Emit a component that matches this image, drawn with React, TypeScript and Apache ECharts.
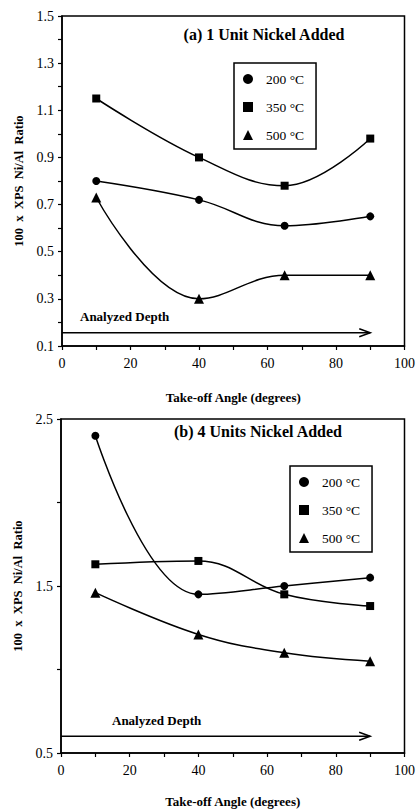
import React, { useEffect, useRef } from "react";
import * as echarts from "echarts";

const angles = [10, 40, 65, 90];
const seriesNames = ["200 °C", "350 °C", "500 °C"];
const symbols = ["circle", "rect", "triangle"];

const topValues200 = [0.8, 0.72, 0.61, 0.65];
const topValues350 = [1.15, 0.9, 0.78, 0.98];
const topValues500 = [0.73, 0.3, 0.4, 0.4];

const botValues200 = [2.4, 1.45, 1.5, 1.55];
const botValues350 = [1.63, 1.65, 1.45, 1.38];
const botValues500 = [1.46, 1.21, 1.1, 1.05];

const topTitle = "(a) 1 Unit Nickel Added";
const botTitle = "(b) 4 Units Nickel Added";
const xTitle = "Take-off Angle (degrees)";
const yTitle = "100  x  XPS  Ni/Al  Ratio";
const depthLabel = "Analyzed Depth";
const topArrow = { from: 0, to: 90, y: 0.156 };
const botArrow = { from: 0, to: 90, y: 0.6 };

const FONT = "Liberation Serif";

export default function App() {
  const ref = useRef<HTMLDivElement>(null);
  useEffect(() => {
    document.body.style.margin = "0";
    const chart = echarts.init(ref.current!, null, { renderer: "svg" });
    const topData = [topValues200, topValues350, topValues500];
    const botData = [botValues200, botValues350, botValues500];

    const mkSeries = (vals: number[][], gi: number) =>
      vals.map((v, i) => ({
        name: seriesNames[i],
        type: "line",
        xAxisIndex: gi,
        yAxisIndex: gi,
        smooth: 0.4,
        symbol: symbols[i],
        symbolSize: i === 2 ? 10 : 8,
        lineStyle: { color: "#000", width: 1.5 },
        itemStyle: { color: "#000" },
        data: angles.map((a, k) => [a, v[k]]),
      }));

    const xAxisBase = (gi: number, gap: number) => ({
      type: "value",
      gridIndex: gi,
      min: 0,
      max: 100,
      interval: 10,
      axisLine: { show: true, lineStyle: { color: "#000", width: 1.5 } },
      axisTick: { show: true, inside: false, length: 4, lineStyle: { color: "#000", width: 1.2 } },
      axisLabel: {
        color: "#000",
        fontFamily: FONT,
        fontSize: 14,
        margin: 10,
        formatter: (v: number) => (Math.round(v) % 20 === 0 ? String(Math.round(v)) : ""),
      },
      splitLine: { show: false },
      name: xTitle,
      nameLocation: "middle",
      nameGap: gap,
      nameTextStyle: { color: "#000", fontFamily: FONT, fontWeight: "bold", fontSize: 13 },
    });

    const legendBase = (left: number, top: number) => ({
      orient: "vertical",
      left,
      top,
      padding: [9, 12, 7, 9],
      itemGap: 14,
      itemWidth: 10,
      itemHeight: 10,
      borderColor: "#000",
      borderWidth: 1.5,
      backgroundColor: "#fff",
      textStyle: { color: "#000", fontFamily: FONT, fontSize: 13.5, padding: [0, 0, 0, 8] },
      data: seriesNames.map((n, i) => ({ name: n, icon: symbols[i], itemStyle: { color: "#000" } })),
    });

    const yName = {
      name: yTitle,
      nameLocation: "middle",
      nameRotate: 90,
      nameGap: 37,
      nameTextStyle: { color: "#000", fontFamily: FONT, fontWeight: "bold", fontSize: 12.5 },
    };

    const option: any = {
      animation: false,
      backgroundColor: "#fff",
      grid: [
        { left: 62, top: 16, width: 344, height: 330, show: true, borderColor: "#000", borderWidth: 1.5, containLabel: false },
        { left: 61, top: 419, width: 345, height: 334, show: true, borderColor: "#000", borderWidth: 1.5, containLabel: false },
      ],
      title: [
        { text: topTitle, left: 259, top: 21, textAlign: "center", textStyle: { fontFamily: FONT, fontWeight: "bold", fontSize: 16, color: "#000" } },
        { text: botTitle, left: 253, top: 418, textAlign: "center", textStyle: { fontFamily: FONT, fontWeight: "bold", fontSize: 16, color: "#000" } },
      ],
      legend: [legendBase(234, 63), legendBase(290, 466)],
      xAxis: [xAxisBase(0, 45), xAxisBase(1, 42)],
      yAxis: [
        {
          type: "value",
          gridIndex: 0,
          min: 0.1,
          max: 1.5,
          interval: 0.1,
          axisLine: { show: true, lineStyle: { color: "#000", width: 1.5 } },
          axisTick: { show: true, length: 4, lineStyle: { color: "#000", width: 1.2 } },
          axisLabel: {
            color: "#000",
            fontFamily: FONT,
            fontSize: 14,
            margin: 8,
            formatter: (v: number) => (Math.round(v * 10) % 2 === 1 ? v.toFixed(1) : ""),
          },
          splitLine: { show: false },
          ...yName,
        },
        {
          type: "value",
          gridIndex: 1,
          min: 0.5,
          max: 2.5,
          interval: 0.5,
          axisLine: { show: true, lineStyle: { color: "#000", width: 1.5 } },
          axisTick: { show: true, length: 4, lineStyle: { color: "#000", width: 1.2 } },
          axisLabel: {
            color: "#000",
            fontFamily: FONT,
            fontSize: 14,
            margin: 8,
            formatter: (v: number) => (Math.round(v * 10) % 10 === 5 ? v.toFixed(1) : ""),
          },
          splitLine: { show: false },
          ...yName,
        },
      ],
      series: [...mkSeries(topData, 0), ...mkSeries(botData, 1)],
    };
    chart.setOption(option);

    const arrowGraphics = (gi: number, arrow: { from: number; to: number; y: number }, textDx: number) => {
      const p0 = chart.convertToPixel({ xAxisIndex: gi, yAxisIndex: gi } as any, [arrow.from, arrow.y]) as number[];
      const p1 = chart.convertToPixel({ xAxisIndex: gi, yAxisIndex: gi } as any, [arrow.to, arrow.y]) as number[];
      return [
        { type: "line", shape: { x1: p0[0], y1: p0[1], x2: p1[0], y2: p1[1] }, style: { stroke: "#000", lineWidth: 1.5 } },
        {
          type: "polyline",
          shape: { points: [[p1[0] - 11, p1[1] - 4], [p1[0], p1[1]], [p1[0] - 11, p1[1] + 4]] },
          style: { stroke: "#000", fill: "none", lineWidth: 1.5 },
        },
        {
          type: "text",
          x: p0[0] + textDx,
          y: p0[1] - 16,
          style: {
            text: depthLabel,
            fill: "#000",
            fontFamily: FONT,
            fontWeight: "bold",
            fontSize: 13,
            verticalAlign: "middle",
          },
        },
      ];
    };
    chart.setOption({ graphic: [...arrowGraphics(0, topArrow, 18), ...arrowGraphics(1, botArrow, 51)] });

    return () => chart.dispose();
  }, []);
  return <div ref={ref} style={{ width: 418, height: 810 }} />;
}
